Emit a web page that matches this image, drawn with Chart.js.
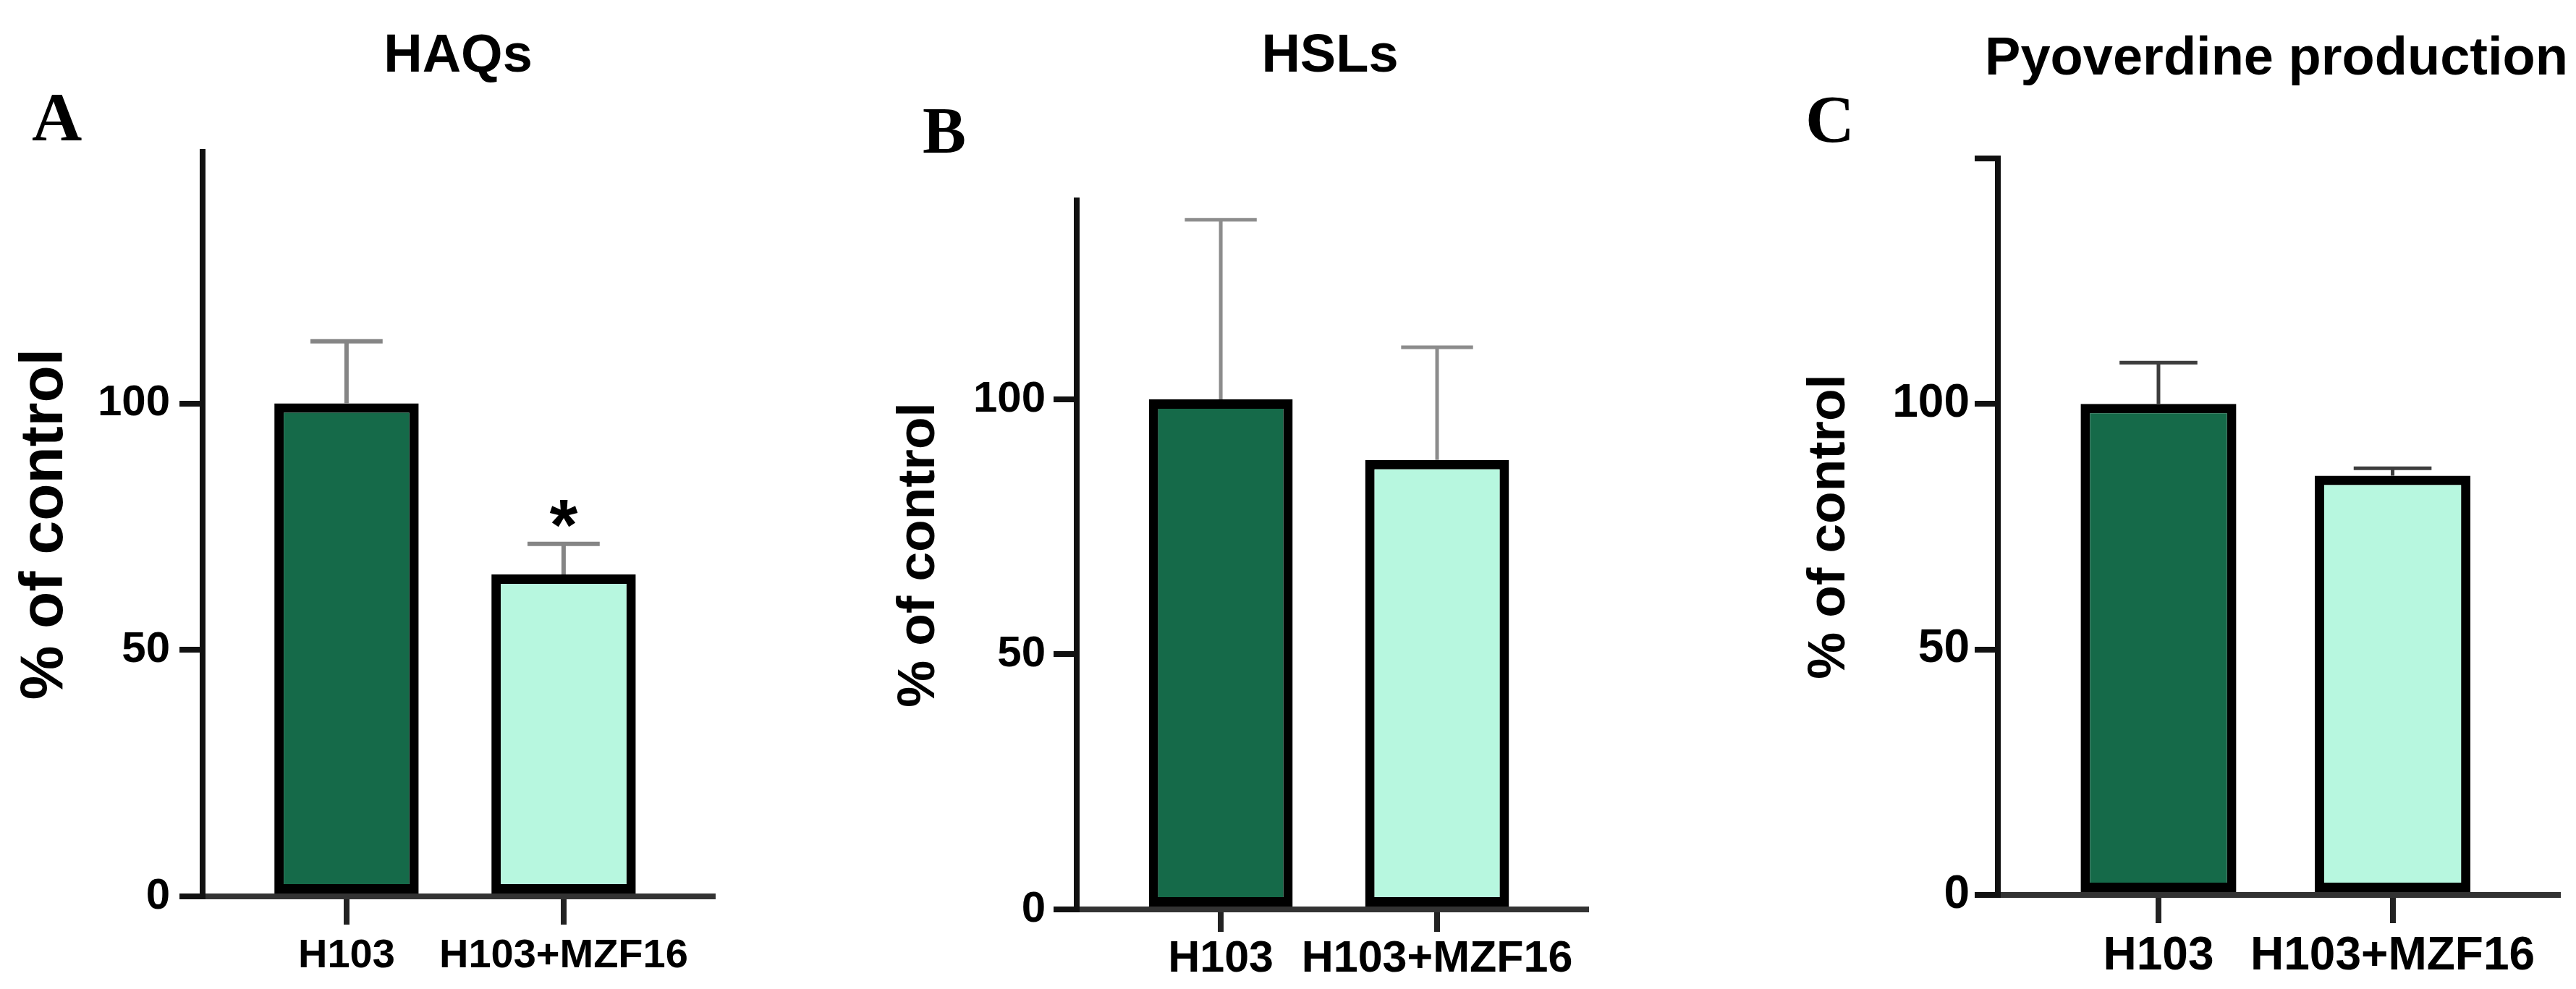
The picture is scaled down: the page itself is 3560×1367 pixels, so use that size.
<!DOCTYPE html>
<html>
<head>
<meta charset="utf-8">
<title>HAQs, HSLs and pyoverdine production</title>
<script src="https://cdn.jsdelivr.net/npm/chart.js@4.4.1/dist/chart.umd.min.js"></script>
<style>
  html, body { margin: 0; padding: 0; background: #fff; }
  #page { position: relative; width: 3560px; height: 1367px; overflow: hidden; background: #fff; }
  canvas { position: absolute; top: 0; }
  .title {
    position: absolute;
    font-family: 'Liberation Sans', Arial, sans-serif;
    font-weight: bold;
    line-height: 1;
    white-space: nowrap;
    transform: translateX(-50%);
    color: #000;
  }
  .letter {
    position: absolute;
    font-family: 'Liberation Serif', 'Times New Roman', serif;
    font-weight: bold;
    line-height: 1;
    color: #000;
  }
</style>
</head>
<body>
<div id="page">
  <canvas id="chartA" width="1160" height="1367" style="left:0px"></canvas>
  <canvas id="chartB" width="1180" height="1367" style="left:1160px"></canvas>
  <canvas id="chartC" width="1220" height="1367" style="left:2340px"></canvas>

  <div class="title" style="left:633px; top:37px; font-size:74px">HAQs</div>
  <div class="title" style="left:1838px; top:37px; font-size:74px">HSLs</div>
  <div class="title" style="left:3146px; top:41px; font-size:74px">Pyoverdine production</div>

  <div class="letter" style="left:44px; top:114px; font-size:96px">A</div>
  <div class="letter" style="left:1275px; top:136px; font-size:90px">B</div>
  <div class="letter" style="left:2495px; top:117px; font-size:94px">C</div>
</div>

<script>
// Values (% of control, mean and upper error)
const categories = ['H103', 'H103+MZF16'];

const haqMeans = [100, 65.3];
const haqErrors = [12.6, 6.2];
const haqMarks = ['', '*'];

const hslMeans = [100, 88.1];
const hslErrors = [35.2, 22.1];

const pyoMeans = [100, 85.4];
const pyoErrors = [8.4, 1.5];

const yTicksAB = [0, 50, 100];
const yTickLabelsAB = ['0', '50', '100'];
const yTicksC = [0, 50, 100, 150];
const yTickLabelsC = ['0', '50', '100', ''];

const yTitle = '% of control';
const barColors = ['#156a49', '#b7f7df'];

const FONT = "'Liberation Sans', Arial, sans-serif";

// one-sided error bars plus significance marks
const errorBars = {
    id: 'errorBars',
    afterDatasetsDraw(chart, args, opts) {
        const { ctx } = chart;
        const yScale = chart.scales.y;
        const meta = chart.getDatasetMeta(0);
        const values = chart.data.datasets[0].data;

        ctx.save();
        ctx.strokeStyle = opts.color;
        ctx.lineWidth = opts.width;
        meta.data.forEach((bar, i) => {
            const mean = values[i].y;
            const top = yScale.getPixelForValue(mean + opts.errors[i]);
            const base = yScale.getPixelForValue(mean);
            const half = bar.width * 0.25;

            ctx.beginPath();
            ctx.moveTo(bar.x, base);
            ctx.lineTo(bar.x, top);
            ctx.moveTo(bar.x - half, top);
            ctx.lineTo(bar.x + half, top);
            ctx.stroke();

            const mark = opts.marks ? opts.marks[i] : '';
            if (mark) {
                ctx.fillStyle = '#000';
                ctx.font = 'bold 100px ' + FONT;
                ctx.textAlign = 'center';
                ctx.textBaseline = 'alphabetic';
                ctx.fillText(mark, bar.x, top + 8);
            }
        });
        ctx.restore();
    }
};

function makePanel(p) {
    return new Chart(document.getElementById(p.canvas), {
        type: 'bar',
        data: {
            datasets: [{
                data: categories.map((c, i) => ({ x: i, y: p.means[i] })),
                backgroundColor: barColors,
                borderColor: '#000',
                borderWidth: 13,
                borderSkipped: false,
                barPercentage: 0.665,
                categoryPercentage: 1
            }]
        },
        options: {
            responsive: false,
            animation: false,
            devicePixelRatio: 1,
            layout: { padding: { top: p.padTop, right: p.padRight, left: 0, bottom: 0 } },
            plugins: {
                legend: { display: false },
                tooltip: { enabled: false },
                errorBars: { errors: p.errors, marks: p.marks, color: p.errColor, width: p.errWidth }
            },
            scales: {
                x: {
                    type: 'linear',
                    offset: false,
                    min: p.xMin,
                    max: p.xMax,
                    afterBuildTicks: s => { s.ticks = categories.map((c, i) => ({ value: i })); },
                    afterFit: s => { s.height = p.xHeight; },
                    grid: {
                        display: true,
                        offset: false,
                        drawOnChartArea: false,
                        drawTicks: true,
                        tickLength: p.xTickLen,
                        lineWidth: 8,
                        color: '#222'
                    },
                    border: { display: true, width: 8, color: '#333' },
                    ticks: {
                        autoSkip: false,
                        maxRotation: 0,
                        minRotation: 0,
                        padding: p.xPad,
                        color: '#000',
                        font: { family: FONT, weight: 'bold', size: p.xFont },
                        callback: v => categories[v]
                    }
                },
                y: {
                    min: 0,
                    max: p.yMax,
                    afterBuildTicks: s => { s.ticks = p.yTicks.map(v => ({ value: v })); },
                    afterFit: s => { s.width = p.yWidth; },
                    grid: {
                        display: true,
                        drawOnChartArea: false,
                        drawTicks: true,
                        tickLength: 32,
                        lineWidth: 8,
                        color: '#111'
                    },
                    border: { display: true, width: 8, color: '#111' },
                    ticks: {
                        padding: p.yPad,
                        color: '#000',
                        font: { family: FONT, weight: 'bold', size: p.yFont },
                        callback: (v, i) => p.yLabels[i]
                    },
                    title: {
                        display: true,
                        text: yTitle,
                        color: '#000',
                        padding: { top: p.titlePad, bottom: 0 },
                        font: { family: FONT, weight: 'bold', size: p.titleFont }
                    }
                }
            }
        },
        plugins: [errorBars]
    });
}

makePanel({
    canvas: 'chartA', means: haqMeans, errors: haqErrors, marks: haqMarks,
    yMax: 151, yTicks: yTicksAB, yLabels: yTickLabelsAB,
    padTop: 210, padRight: 175, yWidth: 280, xHeight: 128,
    xMin: -0.663, xMax: 1.687,
    yFont: 60, yPad: 13, xFont: 56, xTickLen: 39, xPad: 10,
    titleFont: 84, titlePad: 12,
    errColor: '#858585', errWidth: 6
});

makePanel({
    canvas: 'chartB', means: hslMeans, errors: hslErrors, marks: null,
    yMax: 139, yTicks: yTicksAB, yLabels: yTickLabelsAB,
    padTop: 277, padRight: 148, yWidth: 328, xHeight: 110,
    xMin: -0.666, xMax: 1.689,
    yFont: 60, yPad: 11, xFont: 61, xTickLen: 31, xPad: 2,
    titleFont: 73, titlePad: 67,
    errColor: '#8c8c8c', errWidth: 5
});

makePanel({
    canvas: 'chartC', means: pyoMeans, errors: pyoErrors, marks: null,
    yMax: 150, yTicks: yTicksC, yLabels: yTickLabelsC,
    padTop: 219, padRight: 25, yWidth: 421, xHeight: 130,
    xMin: -0.686, xMax: 1.706,
    yFont: 64, yPad: 7, xFont: 64, xTickLen: 39, xPad: 8,
    titleFont: 73, titlePad: 145,
    errColor: '#3d3d3d', errWidth: 5
});
</script>
</body>
</html>
